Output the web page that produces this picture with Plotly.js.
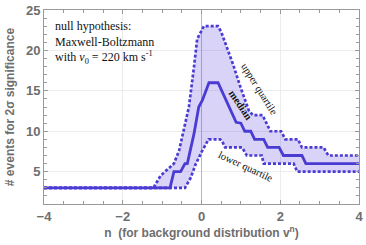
<!DOCTYPE html>
<html>
<head>
<meta charset="utf-8">
<script src="https://cdn.plot.ly/plotly-3.0.1.min.js"></script>
<style>html,body{margin:0;padding:0;background:#fff;}#chart{width:366px;height:245px;}</style>
</head>
<body>
<div id="chart"></div>
<script>
// n values and # events
const nMedian = [-4, -0.8, -0.7, -0.53, -0.42, -0.36, -0.19, -0.07, 0.02, 0.19, 0.42, 0.88, 1.0, 1.1, 1.25, 1.35, 1.58, 1.68, 1.97, 2.08, 2.55, 2.65, 4];
const median  = [3, 3, 5, 5, 6, 6, 9.7, 13, 13.8, 16, 16, 11.1, 11, 10, 10, 9, 9, 8, 8, 7, 7, 6, 6];

const nUpper = [-4, -1.22, -1.04, -0.92, -0.7, -0.57, -0.45, -0.32, -0.19, -0.11, 0.06, 0.42, 0.5, 0.6, 0.8, 1.0, 1.2, 1.3, 1.55, 1.65, 1.75, 2.02, 2.13, 2.45, 2.55, 3.1, 3.22, 4];
const upper  = [3, 3, 4.5, 5, 6, 7.6, 10.1, 13, 18, 21.4, 23, 23, 22.3, 21, 18.3, 15.3, 12.6, 12, 12, 11, 10, 10, 9, 9, 8, 8, 7, 7];

const nLower = [-4, -0.42, -0.28, -0.15, 0.02, 0.18, 0.47, 0.52, 0.6, 1.03, 1.15, 1.53, 1.58, 2.34, 2.43, 4];
const lower  = [3, 3, 4.2, 5.9, 7.6, 9, 9, 8.8, 8, 8, 7, 7, 6, 6, 5, 5];

const xRange = [-4, 4];
const yRange = [1, 25];
const xTickVals = [-4, -2, 0, 2, 4];
const yTickVals = [5, 10, 15, 20, 25];

const lineColor = '#4a3bd3';
const fillColor = 'rgba(90,70,220,0.24)';
const dotted = '3px,2px';

const traces = [
  {x: nLower, y: lower, type: 'scatter', mode: 'lines', name: 'lower quartile',
   line: {color: lineColor, width: 2.7, dash: dotted}, hoverinfo: 'skip'},
  {x: nUpper, y: upper, type: 'scatter', mode: 'lines', name: 'upper quartile',
   fill: 'tonexty', fillcolor: fillColor,
   line: {color: lineColor, width: 2.7, dash: dotted}, hoverinfo: 'skip'},
  {x: nMedian, y: median, type: 'scatter', mode: 'lines', name: 'median',
   line: {color: lineColor, width: 2.8}, hoverinfo: 'skip'}
];

const tickFont = {family: 'Liberation Sans, Arial, sans-serif', size: 13, color: '#6e6e6e', weight: 'bold'};
const titleFont = {family: 'Liberation Sans, Arial, sans-serif', size: 12, color: '#6e6e6e', weight: 'bold'};
const serif = 'Liberation Serif, Times New Roman, serif';

const layout = {
  width: 366, height: 245,
  margin: {l: 44, r: 7, t: 10, b: 41},
  paper_bgcolor: '#fff', plot_bgcolor: '#fff',
  showlegend: false,
  xaxis: {
    range: xRange, tickvals: xTickVals, ticks: 'inside', ticklen: 4, tickcolor: '#999',
    showline: true, linecolor: '#999', linewidth: 1, mirror: 'allticks',
    showgrid: true, gridcolor: '#ececec', gridwidth: 1,
    zeroline: true, zerolinecolor: '#b8b8b8', zerolinewidth: 1,
    tickfont: tickFont,
    minor: {dtick: 0.5, ticks: 'inside', ticklen: 3, tickcolor: '#999', showgrid: false},
    title: {text: 'n  (for background distribution v<sup>n</sup>)', font: titleFont, standoff: 4}
  },
  yaxis: {
    range: yRange, tickvals: yTickVals, ticks: 'inside', ticklen: 4, tickcolor: '#999',
    showline: true, linecolor: '#999', linewidth: 1, mirror: 'allticks',
    showgrid: true, gridcolor: '#ececec', gridwidth: 1, zeroline: false,
    tickfont: tickFont,
    minor: {dtick: 1, ticks: 'inside', ticklen: 3, tickcolor: '#999', showgrid: false},
    title: {text: '# events for 2σ significance', font: titleFont, standoff: 8}
  },
  annotations: [
    {xref: 'paper', yref: 'paper', x: 0.029, y: 0.965, xanchor: 'left', yanchor: 'top', align: 'left',
     showarrow: false, font: {family: serif, size: 12, color: '#111'},
     text: 'null hypothesis:<br>Maxwell-Boltzmann<br>with <i>v</i><sub>0</sub> = 220 km s<sup>-1</sup>'},
    {x: 1.48, y: 15.2, showarrow: false, textangle: 58, text: 'upper quartile',
     font: {family: serif, size: 10.5, color: '#111'}},
    {x: 0.98, y: 13.3, showarrow: false, textangle: 56, text: '<b>median</b>',
     font: {family: serif, size: 10.5, color: '#111'}},
    {x: 1.12, y: 5.6, showarrow: false, textangle: 25, text: 'lower quartile',
     font: {family: serif, size: 10.5, color: '#111'}}
  ]
};

Plotly.newPlot('chart', traces, layout, {staticPlot: true, displayModeBar: false});
</script>
</body>
</html>
